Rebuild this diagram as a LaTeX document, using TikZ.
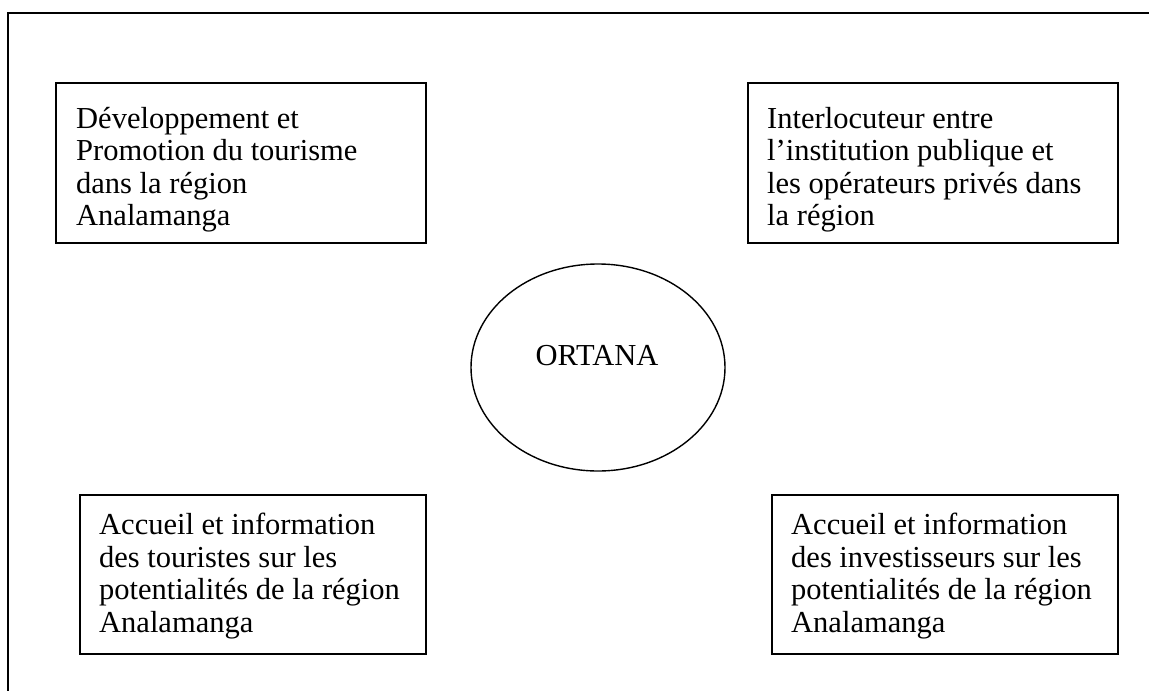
\documentclass[tikz,border=0pt]{standalone}
\usepackage{fontspec}
\setmainfont{Liberation Serif}
\usetikzlibrary{shapes.geometric}
\tikzset{
  box/.style={draw=black, line width=1.6pt, rectangle, inner sep=0pt, anchor=north west},
  boxtext/.style={anchor=north west, inner sep=0pt, align=left, font=\fontsize{30.5pt}{32.5pt}\selectfont},
  frame/.style={draw=black, line width=1.6pt},
  oval/.style={draw=black, line width=1.4pt, ellipse, inner sep=0pt, minimum width=254pt, minimum height=207pt}
}
\begin{document}
\begin{tikzpicture}[x=1pt,y=-1pt]
\useasboundingbox (0,0) rectangle (1149,691);
% outer frame (top and left edges visible)
\coordinate (fa) at (8,700);
\coordinate (fb) at (8,13);
\coordinate (fc) at (1160,13);
\draw[frame] (fa) -- (fb) -- (fc);
% boxes
\node[box, minimum width=370pt, minimum height=160pt] (tl) at (55,82) {};
\node[box, minimum width=370pt, minimum height=160pt] (tr) at (747,82) {};
\node[box, minimum width=346pt, minimum height=159pt] (bl) at (79,494) {};
\node[box, minimum width=346pt, minimum height=159pt] (br) at (771,494) {};
% texts
\node[boxtext] (tltext) at (76,107) {Développement et\\Promotion du tourisme\\dans la région\\Analamanga};
\node[boxtext] (trtext) at (767,107) {Interlocuteur entre\\l’institution publique et\\les opérateurs privés dans\\la région};
\node[boxtext] (bltext) at (99,513) {Accueil et information\\des touristes sur les\\potentialités de la région\\Analamanga};
\node[boxtext] (brtext) at (791,513) {Accueil et information\\des investisseurs sur les\\potentialités de la région\\Analamanga};
% ellipse
\node[oval] (ell) at (598,367.5) {};
\node[font=\fontsize{30.5pt}{35pt}\selectfont, inner sep=0pt] (ortana) at (597,356) {ORTANA};
\end{tikzpicture}
\end{document}
